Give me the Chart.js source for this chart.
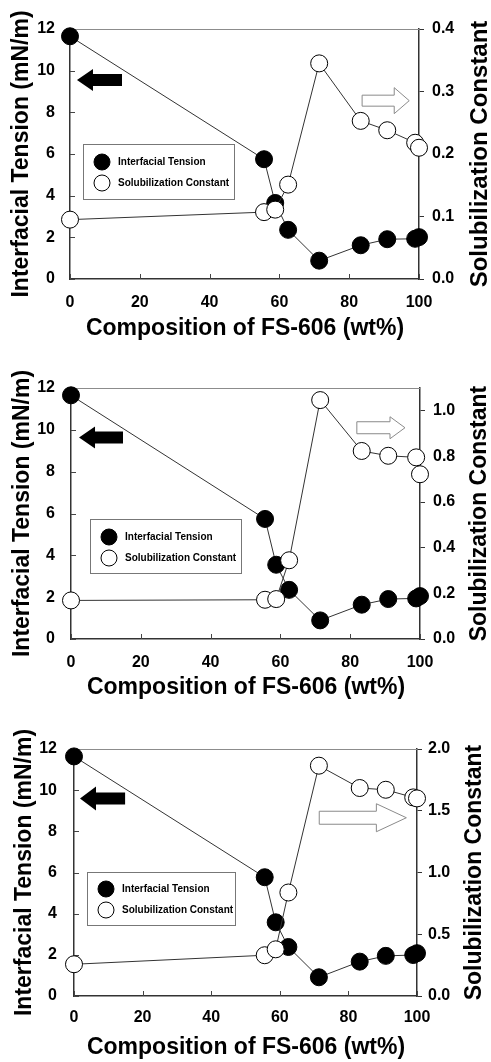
<!DOCTYPE html>
<html lang="en">
<head>
<meta charset="UTF-8">
<title>Interfacial Tension and Solubilization Constant vs FS-606</title>
<script src="https://cdn.jsdelivr.net/npm/chart.js"></script>
<style>
  body { margin: 0; background: #fff; }
  canvas { display: block; }
</style>
</head>
<body>
<canvas id="c1" width="491" height="340"></canvas>
<canvas id="c2" width="491" height="360"></canvas>
<canvas id="c3" width="491" height="362"></canvas>
<script>
// composition of FS-606 (wt%)
var composition = [0, 55.6, 58.8, 62.5, 71.4, 83.3, 90.9, 98.9, 100];

// interfacial tension (mN/m)
var tension1 = [11.65, 5.75, 3.65, 2.36, 0.88, 1.62, 1.91, 1.93, 2.01];
var tension2 = [11.65, 5.74, 3.55, 2.35, 0.89, 1.64, 1.91, 1.94, 2.05];
var tension3 = [11.64, 5.77, 3.58, 2.38, 0.91, 1.67, 1.95, 1.99, 2.08];

// solubilization constant
var solub1 = [0.095, 0.107, 0.111, 0.151, 0.345, 0.253, 0.238, 0.218, 0.210];
var solub2 = [0.169, 0.172, 0.175, 0.345, 1.047, 0.824, 0.803, 0.796, 0.722];
var solub3 = [0.257, 0.330, 0.378, 0.838, 1.865, 1.684, 1.670, 1.608, 1.600];

// tick labels
var xTicks = [0, 20, 40, 60, 80, 100];
var leftTicks = [0, 2, 4, 6, 8, 10, 12];
var rightTicks1 = [0, 0.1, 0.2, 0.3, 0.4];
var rightTicks2 = [0, 0.2, 0.4, 0.6, 0.8, 1.0];
var rightTicks3 = [0, 0.5, 1.0, 1.5, 2.0];

var FONT = '"Liberation Sans", Arial, sans-serif';

function setTicks(list) {
    return function (scale) {
        scale.ticks = list.map(function (v) { return { value: v }; });
    };
}

// frame top line, inward ticks, arrows, legend box and axis titles
var decor = {
    id: 'decor',
    beforeDatasetsDraw: function (chart, args, o) {
        var ctx = chart.ctx, a = chart.chartArea;
        var sx = chart.scales.x, sy = chart.scales.y;
        ctx.save();
        ctx.strokeStyle = '#8c8c8c';
        ctx.lineWidth = 1;
        ctx.beginPath();
        ctx.moveTo(a.left, a.top + 0.5);
        ctx.lineTo(a.right, a.top + 0.5);
        ctx.stroke();
        ctx.strokeStyle = '#444';
        ctx.beginPath();
        sx.ticks.forEach(function (t) {
            var px = Math.round(sx.getPixelForValue(t.value)) + 0.5;
            ctx.moveTo(px, a.bottom);
            ctx.lineTo(px, a.bottom - 5);
        });
        sy.ticks.forEach(function (t) {
            var py = Math.round(sy.getPixelForValue(t.value)) + 0.5;
            ctx.moveTo(a.left, py);
            ctx.lineTo(a.left + 5, py);
        });
        ctx.stroke();
        ctx.restore();
    },
    afterDraw: function (chart, args, o) {
        var ctx = chart.ctx, a = chart.chartArea;
        var sx = chart.scales.x, sy = chart.scales.y;
        ctx.save();

        o.arrows.forEach(function (ar) {
            var tip = sx.getPixelForValue(ar.tip);
            var tail = sx.getPixelForValue(ar.tail);
            var yc = sy.getPixelForValue(ar.y);
            var d = tail > tip ? 1 : -1;
            var hx = tip + d * ar.headLen;
            ctx.beginPath();
            ctx.moveTo(tip, yc);
            ctx.lineTo(hx, yc - ar.headH / 2);
            ctx.lineTo(hx, yc - ar.bodyH / 2);
            ctx.lineTo(tail, yc - ar.bodyH / 2);
            ctx.lineTo(tail, yc + ar.bodyH / 2);
            ctx.lineTo(hx, yc + ar.bodyH / 2);
            ctx.lineTo(hx, yc + ar.headH / 2);
            ctx.closePath();
            if (ar.fill) {
                ctx.fillStyle = '#000';
                ctx.fill();
            } else {
                ctx.fillStyle = '#fff';
                ctx.fill();
                ctx.strokeStyle = '#8a8a8a';
                ctx.lineWidth = 1;
                ctx.stroke();
            }
        });

        // legend
        var lg = o.legend;
        var lx = a.left + lg.dx, ly = a.top + lg.dy;
        ctx.fillStyle = '#fff';
        ctx.fillRect(lx, ly, lg.w, lg.h);
        ctx.strokeStyle = '#777';
        ctx.lineWidth = 1;
        ctx.strokeRect(Math.round(lx) + 0.5, Math.round(ly) + 0.5, lg.w, lg.h);
        chart.data.datasets.slice().sort(function (p, q) { return p.legendRank - q.legendRank; })
            .forEach(function (ds, i) {
                var cy = ly + lg.row0 + i * lg.rowGap;
                ctx.beginPath();
                ctx.arc(lx + 19, cy, 8, 0, Math.PI * 2);
                ctx.fillStyle = ds.backgroundColor;
                ctx.fill();
                ctx.strokeStyle = '#000';
                ctx.stroke();
                ctx.fillStyle = '#000';
                ctx.font = 'bold 10px ' + FONT;
                ctx.textAlign = 'left';
                ctx.textBaseline = 'middle';
                ctx.fillText(ds.label, lx + 35, cy);
            });

        // axis titles
        var t = o.titles;
        ctx.fillStyle = '#000';
        ctx.textAlign = 'center';
        ctx.textBaseline = 'middle';
        ctx.font = 'bold 23px ' + FONT;
        ctx.fillText('Composition of FS-606 (wt%)', t.xTitleX, t.xTitleY);
        var midY = (a.top + a.bottom) / 2;
        ctx.save();
        ctx.translate(t.leftX, midY);
        ctx.rotate(-Math.PI / 2);
        ctx.fillText('Interfacial Tension (mN/m)', 0, 0);
        ctx.restore();
        ctx.save();
        ctx.font = 'bold ' + t.rightSize + 'px ' + FONT;
        ctx.translate(t.rightX, midY);
        ctx.rotate(-Math.PI / 2);
        ctx.fillText('Solubilization Constant', 0, 0);
        ctx.restore();

        ctx.restore();
    }
};

function makeChart(id, p) {
    var H = document.getElementById(id).height;
    var W = document.getElementById(id).width;
    var tickFont = { family: FONT, size: 16, weight: 'bold' };
    return new Chart(document.getElementById(id), {
        type: 'line',
        data: {
            datasets: [
                {
                    label: 'Interfacial Tension',
                    legendRank: 0,
                    order: 1,
                    data: composition.map(function (x, i) { return { x: x, y: p.tension[i] }; }),
                    yAxisID: 'y',
                    borderColor: '#333',
                    borderWidth: 1,
                    backgroundColor: '#000',
                    pointBackgroundColor: '#000',
                    pointBorderColor: '#000',
                    pointBorderWidth: 1,
                    pointRadius: 8.5,
                    clip: false
                },
                {
                    label: 'Solubilization Constant',
                    legendRank: 1,
                    order: 0,
                    data: composition.map(function (x, i) { return { x: x, y: p.solub[i] }; }),
                    yAxisID: 'y2',
                    borderColor: '#333',
                    borderWidth: 1,
                    backgroundColor: '#fff',
                    pointBackgroundColor: '#fff',
                    pointBorderColor: '#000',
                    pointBorderWidth: 1,
                    pointRadius: 8.5,
                    clip: false
                }
            ]
        },
        options: {
            responsive: false,
            animation: false,
            events: [],
            layout: { padding: { top: p.area.top, left: 0, right: 0, bottom: 0 } },
            scales: {
                x: {
                    type: 'linear',
                    min: 0, max: 100,
                    afterBuildTicks: setTicks(xTicks),
                    afterFit: function (s) { s.height = H - p.area.bottom; },
                    grid: { display: false },
                    border: { display: true, color: '#333', width: 1.5 },
                    ticks: { font: tickFont, color: '#000', padding: p.xPad, maxRotation: 0 }
                },
                y: {
                    position: 'left',
                    min: 0, max: 12,
                    afterBuildTicks: setTicks(leftTicks),
                    afterFit: function (s) { s.width = p.area.left; },
                    grid: { display: false },
                    border: { display: true, color: '#333', width: 1.5 },
                    ticks: { font: tickFont, color: '#000', padding: p.yPad }
                },
                y2: {
                    position: 'right',
                    min: 0, max: p.rightMax,
                    afterBuildTicks: setTicks(p.rightTicks),
                    afterFit: function (s) { s.width = W - p.area.right; },
                    grid: { display: true, drawOnChartArea: false, drawTicks: true, tickLength: 5, color: '#333' },
                    border: { display: true, color: '#333', width: 1.5 },
                    ticks: {
                        font: tickFont, color: '#000', padding: p.y2Pad,
                        callback: function (v) { return Number(v).toFixed(1); }
                    }
                }
            },
            plugins: {
                legend: { display: false },
                tooltip: { enabled: false },
                decor: {
                    arrows: p.arrows,
                    legend: p.legend,
                    titles: p.titles
                }
            }
        },
        plugins: [decor]
    });
}

makeChart('c1', {
    tension: tension1, solub: solub1, rightTicks: rightTicks1, rightMax: 0.4,
    area: { left: 70, right: 419, top: 29, bottom: 279 },
    xPad: 6, yPad: 7, y2Pad: 8,
    arrows: [
        { tip: 2.0, tail: 14.9, y: 9.55, headLen: 16, headH: 22, bodyH: 12, fill: true },
        { tip: 97.2, tail: 83.7, y: 8.56, headLen: 15, headH: 26, bodyH: 11, fill: false }
    ],
    legend: { dx: 13, dy: 115, w: 151, h: 55, row0: 18, rowGap: 21 },
    titles: { leftX: 22, rightX: 480, rightSize: 24, xTitleX: 245, xTitleY: 329 }
});

makeChart('c2', {
    tension: tension2, solub: solub2, rightTicks: rightTicks2, rightMax: 1.1,
    area: { left: 71, right: 420, top: 48, bottom: 299 },
    xPad: 6, yPad: 8, y2Pad: 8,
    arrows: [
        { tip: 2.3, tail: 14.9, y: 9.63, headLen: 16, headH: 22, bodyH: 12, fill: true },
        { tip: 95.7, tail: 81.9, y: 10.1, headLen: 15, headH: 22, bodyH: 12, fill: false }
    ],
    legend: { dx: 19, dy: 131, w: 151, h: 54, row0: 18, rowGap: 21 },
    titles: { leftX: 23, rightX: 480, rightSize: 23, xTitleX: 246, xTitleY: 348 }
});

makeChart('c3', {
    tension: tension3, solub: solub3, rightTicks: rightTicks3, rightMax: 2.0,
    area: { left: 74, right: 417, top: 49, bottom: 296 },
    xPad: 4, yPad: 9, y2Pad: 6,
    arrows: [
        { tip: 1.75, tail: 14.9, y: 9.6, headLen: 16, headH: 24, bodyH: 12, fill: true },
        { tip: 96.9, tail: 71.5, y: 8.66, headLen: 30, headH: 28, bodyH: 13, fill: false }
    ],
    legend: { dx: 13, dy: 123, w: 148, h: 53, row0: 17, rowGap: 21 },
    titles: { leftX: 25, rightX: 475, rightSize: 23, xTitleX: 246, xTitleY: 348 }
});
</script>
</body>
</html>
